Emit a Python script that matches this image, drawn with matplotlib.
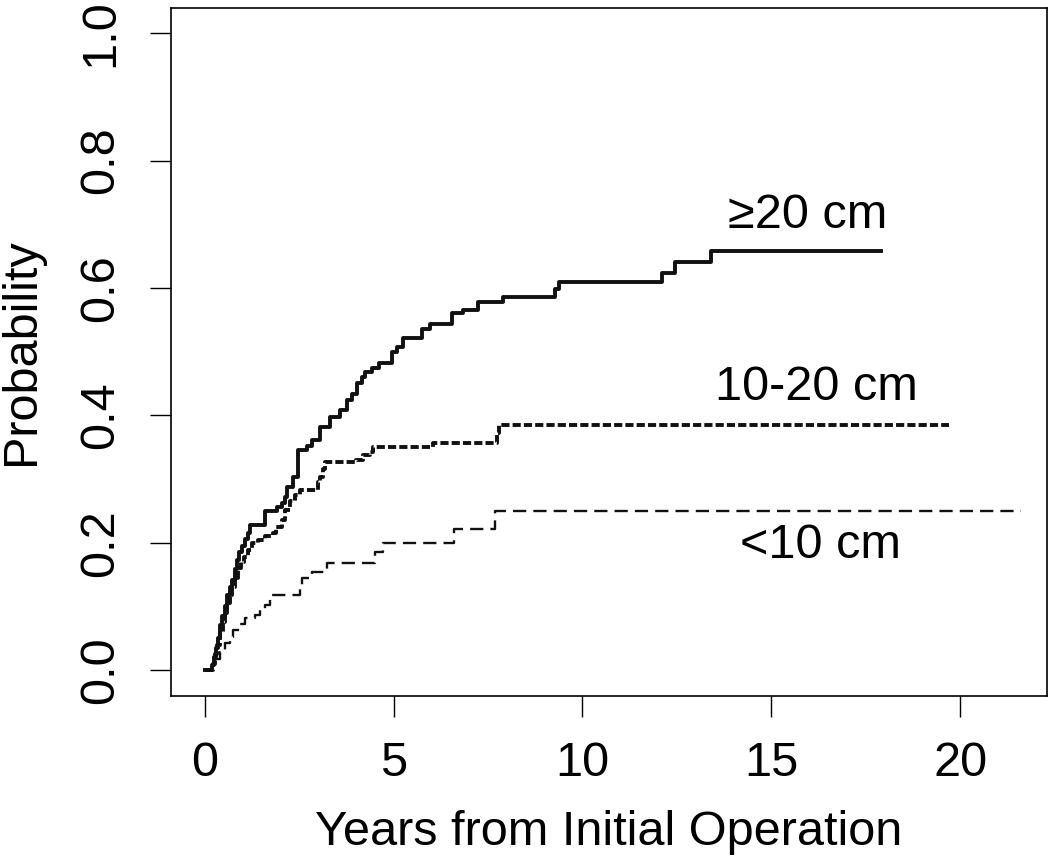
import matplotlib.pyplot as plt

plt.rcParams['font.family'] = ['Liberation Sans', 'DejaVu Sans']

# --- cumulative incidence ---
t_large = [0, 0.2, 0.25, 0.3, 0.35, 0.41, 0.47, 0.54, 0.6, 0.66, 0.72, 0.8, 0.86, 0.92, 1.0, 1.07,
           1.15, 1.2, 1.6, 1.91, 2.04, 2.13, 2.17, 2.35, 2.48, 2.7, 2.84, 3.06, 3.32, 3.58, 3.76,
           3.9, 4.03, 4.16, 4.25, 4.42, 4.62, 4.95, 5.08, 5.24, 5.75, 5.97, 6.54, 6.85, 7.23,
           7.89, 9.27, 9.38, 12.1, 12.45, 13.4, 17.9]
p_large = [0, 0.008, 0.02, 0.035, 0.05, 0.07, 0.085, 0.1, 0.118, 0.13, 0.142, 0.158, 0.172, 0.185,
           0.195, 0.205, 0.215, 0.228, 0.249, 0.256, 0.262, 0.272, 0.288, 0.303, 0.345, 0.351,
           0.361, 0.382, 0.398, 0.408, 0.424, 0.434, 0.45, 0.46, 0.468, 0.474, 0.482, 0.50, 0.507,
           0.521, 0.535, 0.543, 0.56, 0.566, 0.578, 0.585, 0.598, 0.61, 0.623, 0.641, 0.658, 0.658]

t_mid = [0, 0.22, 0.28, 0.34, 0.41, 0.48, 0.54, 0.6, 0.66, 0.72, 0.8, 0.88, 0.95, 1.05, 1.15,
         1.25, 1.42, 1.6, 1.8, 1.9, 2.05, 2.13, 2.26, 2.4, 2.53, 3.0, 3.06, 3.12, 3.19, 4.0,
         4.2, 4.38, 4.46, 6.05, 7.75, 7.8, 19.7]
p_mid = [0, 0.01, 0.025, 0.04, 0.06, 0.075, 0.09, 0.105, 0.118, 0.13, 0.145, 0.16, 0.17, 0.178,
         0.188, 0.199, 0.204, 0.21, 0.215, 0.225, 0.235, 0.251, 0.265, 0.275, 0.283, 0.295,
         0.303, 0.315, 0.327, 0.33, 0.337, 0.342, 0.35, 0.357, 0.372, 0.385, 0.385]

t_small = [0, 0.2, 0.28, 0.41, 0.54, 0.67, 0.76, 0.94, 1.07, 1.34, 1.47, 1.6, 1.73, 2.53, 2.57,
           2.84, 3.23, 4.51, 4.73, 6.6, 7.69, 21.6]
p_small = [0, 0.008, 0.018, 0.029, 0.042, 0.052, 0.063, 0.073, 0.081, 0.086, 0.094, 0.102, 0.118,
           0.131, 0.144, 0.154, 0.168, 0.186, 0.2, 0.222, 0.25, 0.25]

labels = ['\u226520 cm', '10-20 cm', '<10 cm']
label_pos = [(15.97, 0.714), (16.2, 0.443), (16.3, 0.196)]

fig = plt.figure(figsize=(10.5, 8.56), dpi=100)
ax = fig.add_axes([0.163, 0.1875, 0.834, 0.8035])

ax.step(t_large, p_large, where='post', color='#111111', linewidth=2.8)
ax.step(t_mid, p_mid, where='post', color='#111111', linewidth=2.8,
        linestyle=(0, (2.1, 0.8)))
ax.step(t_small, p_small, where='post', color='#111111', linewidth=1.7,
        linestyle=(0, (5.6, 3.0)))

for lab, (x, y) in zip(labels, label_pos):
    ax.text(x, y, lab, fontsize=35, ha='center', va='center')

ax.set_xlim(-0.886, 22.29)
ax.set_ylim(-0.04, 1.04)
ax.set_xticks([0, 5, 10, 15, 20])
ax.set_yticks([0.0, 0.2, 0.4, 0.6, 0.8, 1.0])
ax.set_yticklabels(['0.0', '0.2', '0.4', '0.6', '0.8', '1.0'], rotation=90, va='center')
ax.tick_params(axis='both', length=15, width=1, labelsize=35)
ax.tick_params(axis='x', pad=17.5)
ax.tick_params(axis='y', pad=19.5)
for s in ax.spines.values():
    s.set_linewidth(1.2)

ax.set_xlabel('Years from Initial Operation', fontsize=35)
ax.set_ylabel('Probability', fontsize=35)
ax.xaxis.set_label_coords(0.5, -0.166)
ax.yaxis.set_label_coords(-0.145, 0.5)

fig.savefig('out.png', dpi=100)
